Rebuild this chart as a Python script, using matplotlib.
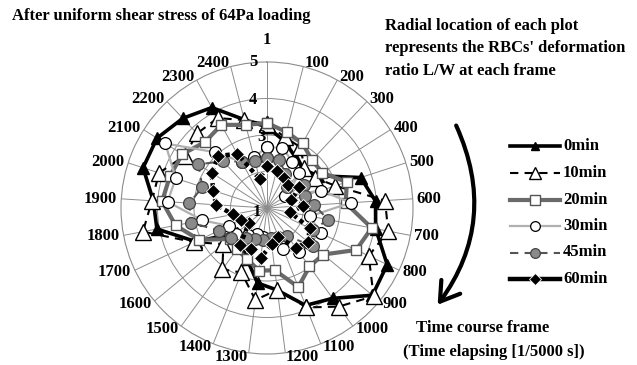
import numpy as np
import matplotlib
matplotlib.use("Agg")
import matplotlib.pyplot as plt
from matplotlib.lines import Line2D
from matplotlib.patches import FancyArrowPatch

# ---------------- data ----------------
categories = ['1', '100', '200', '300', '400', '500', '600', '700', '800', '900',
              '1000', '1100', '1200', '1300', '1400', '1500', '1600', '1700', '1800',
              '1900', '2000', '2100', '2200', '2300', '2400']
series_names = ['0min', '10min', '20min', '30min', '45min', '60min']
min0 = [3.22, 2.9, 2.6, 2.45, 2.65, 3.7, 3.98, 4.03, 4.64, 4.75, 4.06, 3.87, 3.27,
        3.07, 2.5, 2.2, 2.07, 3.16, 4.07, 4.12, 4.57, 4.57, 4.37, 4.14, 3.5]
min10 = [3.3, 3.0, 2.9, 2.5, 2.55, 2.97, 4.24, 4.38, 4.08, 4.79, 4.34, 3.93, 3.26,
         3.54, 2.9, 3.08, 2.55, 3.2, 4.46, 4.16, 4.11, 3.67, 3.8, 3.81, 3.49]
min20 = [3.33, 3.15, 3.02, 2.8, 2.8, 3.3, 3.16, 3.92, 3.7, 3.0, 2.98, 3.33, 2.72,
         2.73, 2.5, 2.4, 2.33, 3.05, 3.55, 3.88, 3.8, 3.75, 3.48, 3.6, 3.35]
min30 = [2.67, 2.7, 2.45, 2.3, 1.6, 2.55, 3.3, 2.2, 2.62, 2.5, 2.5, 2.2, 1.9,
         1.8, 1.78, 1.9, 2.1, 2.15, 2.8, 3.73, 3.63, 4.3, 3.1, 2.45, 2.43]
min45 = [2.38, 2.37, 2.05, 1.8, 2.2, 2.1, 2.3, 2.7, 2.4, 2.65, 1.95, 1.85, 1.83,
         1.87, 1.9, 2.0, 2.28, 2.45, 3.13, 3.13, 2.86, 3.23, 2.76, 2.45, 2.34]
min60 = [2.15, 2.05, 1.95, 1.85, 2.05, 1.7, 2.0, 1.65, 2.3, 2.45, 2.35, 1.85, 2.0,
         2.38, 2.2, 2.25, 1.65, 1.8, 1.95, 2.4, 2.55, 2.8, 2.95, 2.7, 1.82]
r_ticks = [5, 4, 3, 1]

title_text = 'After uniform shear stress of 64Pa loading'
note_lines = ['Radial location of each plot',
              "represents the RBCs' deformation",
              'ratio L/W at each frame']
time_lines = ['Time course frame', '(Time elapsing [1/5000 s])']

# ---------------- figure ----------------
W, H = 637, 365
fig = plt.figure(figsize=(W / 100, H / 100), dpi=100)
FONT = ['Liberation Serif', 'DejaVu Serif']
FS = 12

def fx(x):
    return x / W

def fy(y):
    return 1 - y / H

cx, cy, R = 267, 208, 146
ax = fig.add_axes([fx(cx - R), fy(cy + R), 2 * R / W, 2 * R / H], projection='polar')
ax.set_theta_zero_location('N')
ax.set_theta_direction(-1)
ax.set_ylim(1, 5)

n = len(categories)
theta = np.arange(n) * 2 * np.pi / n
ax.set_xticks(theta)
ax.set_xticklabels([])
ax.set_yticks([2, 3, 4])
ax.set_yticklabels([])
ax.grid(True, color='#8c8c8c', lw=0.7)
ax.spines['polar'].set_color('#8c8c8c')
ax.spines['polar'].set_linewidth(0.8)
ax.set_facecolor('none')

def closed(v):
    return np.append(theta, theta[0]), np.append(v, v[0])

styles = [
    dict(color='black', lw=2.6, ls='-', marker='^', ms=8.5, mfc='black', mec='black'),
    dict(color='black', lw=1.5, ls=(0, (4, 3)), marker='^', ms=11, mfc='white', mec='black', mew=1.0),
    dict(color='#6a6a6a', lw=3.0, ls='-', marker='s', ms=7.5, mfc='white', mec='#555555', mew=1.0),
    dict(color='#b0b0b0', lw=1.6, ls='-', marker='o', ms=8.5, mfc='white', mec='black', mew=0.9),
    dict(color='#555555', lw=1.5, ls=(0, (4, 3)), marker='o', ms=8.5, mfc='#8a8a8a', mec='#444444', mew=0.9),
    dict(color='black', lw=3.2, ls=(0, (1, 0.8)), marker='D', ms=7, mfc='black', mec='white', mew=0.6),
]
data = [min0, min10, min20, min30, min45, min60]
for i, (vals, st) in enumerate(zip(data, styles)):
    t, v = closed(np.array(vals))
    ax.plot(t, v, zorder=3 + i, clip_on=False, **st)

# category labels
for k, lab in enumerate(categories):
    th = theta[k]
    if k == 0:
        ax.annotate(lab, xy=(th, 5), xytext=(0, 22 * 0.72), textcoords='offset points',
                    ha='center', va='center', fontsize=FS, fontweight='bold', family=FONT,
                    annotation_clip=False)
        continue
    s, c = np.sin(th), np.cos(th)
    ha = 'left' if s > 0 else 'right'
    ax.annotate(lab, xy=(th, 5), xytext=(4 * s * 0.72, 4 * c * 0.72), textcoords='offset points',
                ha=ha, va='center', fontsize=FS, fontweight='bold', family=FONT,
                annotation_clip=False)

# radial value labels
rpos = {5: (253, 62), 4: (253, 100), 3: (261, 137), 1: (257, 212)}
for rv in r_ticks:
    x, y = rpos[rv]
    fig.text(fx(x), fy(y), str(rv), ha='center', va='center', fontsize=FS,
             fontweight='bold', family=FONT, zorder=2)

# title and notes
fig.text(fx(12), fy(16), title_text, ha='left', va='center', fontsize=FS,
         fontweight='bold', family=FONT)
for i, line in enumerate(note_lines):
    fig.text(fx(385), fy(26 + 22.5 * i), line, ha='left', va='center', fontsize=FS,
             fontweight='bold', family=FONT)
fig.text(fx(483), fy(328), time_lines[0], ha='center', va='center', fontsize=FS,
         fontweight='bold', family=FONT)
fig.text(fx(494), fy(352), time_lines[1], ha='center', va='center', fontsize=FS,
         fontweight='bold', family=FONT)

# curved arrow
arr = FancyArrowPatch((fx(455), fy(123)), (fx(436), fy(307)), transform=fig.transFigure,
                      connectionstyle='arc3,rad=-0.3',
                      arrowstyle='->,head_length=1.1,head_width=0.7',
                      lw=3, color='black', mutation_scale=12)
fig.add_artist(arr)

# legend (manual)
leg_y = [146, 173, 199.5, 226, 252.5, 279]
legend_styles = [dict(s) for s in styles]
legend_styles[5]['ls'] = '-'
legend_styles[0]['ms'] = 6
legend_styles[1]['ms'] = 8
legend_styles[2]['ms'] = 6.5
legend_styles[3]['ms'] = 7
legend_styles[4]['ms'] = 7
legend_styles[5]['ms'] = 6
for name, st, y in zip(series_names, legend_styles, leg_y):
    st = dict(st)
    mk = dict(marker=st.pop('marker'), ms=st.pop('ms'), mfc=st.pop('mfc'),
              mec=st.pop('mec'), mew=st.pop('mew', 1.0))
    ln = Line2D([fx(510), fx(560)], [fy(y), fy(y)], transform=fig.transFigure,
                color=st['color'], lw=st['lw'], ls=st['ls'])
    fig.add_artist(ln)
    mk_ln = Line2D([fx(535)], [fy(y)], transform=fig.transFigure, ls='none', **mk)
    fig.add_artist(mk_ln)
    fig.text(fx(563), fy(y), name, ha='left', va='center', fontsize=FS,
             fontweight='bold', family=FONT)

fig.savefig('out.png', dpi=100)
